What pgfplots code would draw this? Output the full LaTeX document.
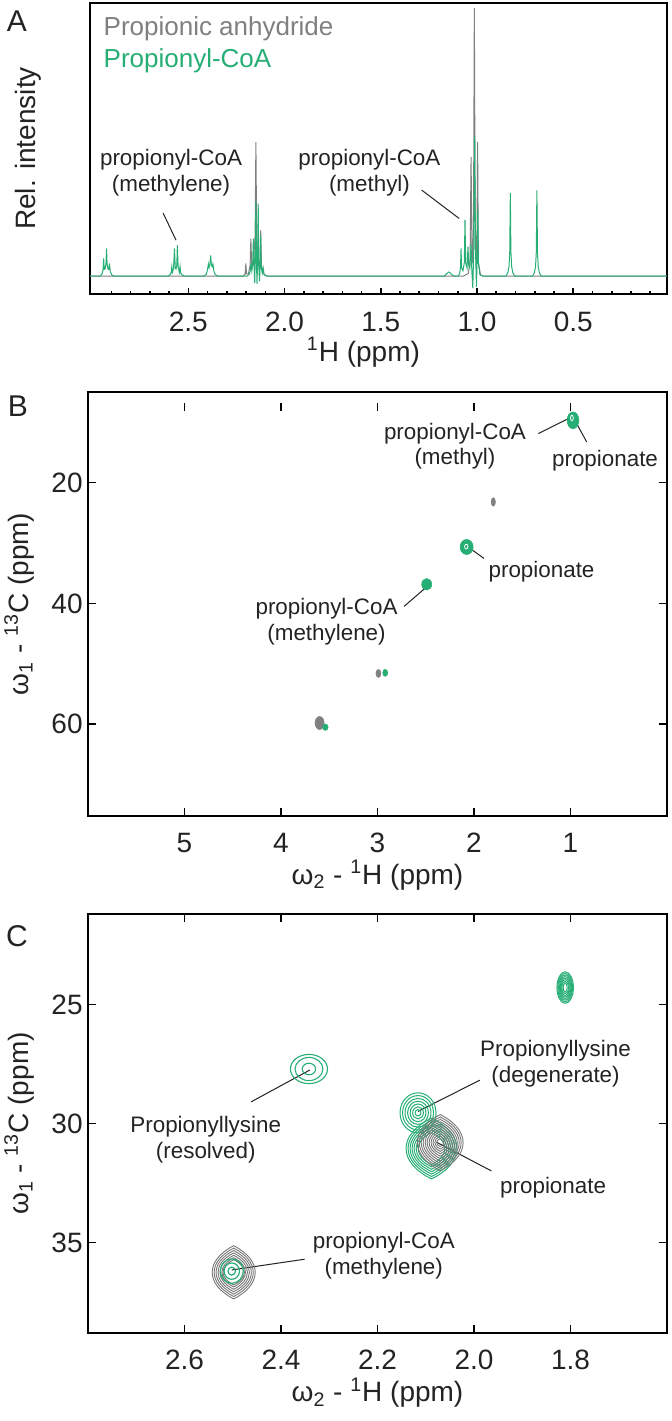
\documentclass[border=0pt]{standalone}
\usepackage{fontspec}
\setmainfont{Liberation Sans}
\usepackage{pgfplots}
\pgfplotsset{compat=1.18}
\definecolor{cgreen}{RGB}{39,174,116}
\definecolor{cgray}{RGB}{128,128,128}
\definecolor{cgrayc}{RGB}{118,118,118}
\definecolor{ctext}{RGB}{35,35,35}

\pgfdeclareplotmark{lens}{%
  \pgfpathmoveto{\pgfqpoint{0pt}{\pgfplotmarksize}}%
  \pgfpathcurveto{\pgfqpoint{1.33\pgfplotmarksize}{0.45\pgfplotmarksize}}{\pgfqpoint{1.33\pgfplotmarksize}{-0.45\pgfplotmarksize}}{\pgfqpoint{0pt}{-\pgfplotmarksize}}%
  \pgfpathcurveto{\pgfqpoint{-1.33\pgfplotmarksize}{-0.45\pgfplotmarksize}}{\pgfqpoint{-1.33\pgfplotmarksize}{0.45\pgfplotmarksize}}{\pgfqpoint{0pt}{\pgfplotmarksize}}%
  \pgfpathclose
  \pgfusepathqstroke
}

\tikzset{ann/.style={font=\fontsize{11.2}{12.8}\selectfont, text=ctext, align=center, inner sep=0pt}}

\pgfplotsset{
  blob/.style n args={3}{scatter, only marks, mark=#1,
    scatter/use mapped color={draw=#2, fill=#2, line width=#3},
    visualization depends on={\thisrow{r}\as\blobr},
    visualization depends on={\thisrow{s}\as\blobs},
    scatter/@pre marker code/.append style={/tikz/mark size=\blobr, /tikz/xscale=\blobs}},
  common/.style={scale only axis, anchor=north west, tick align=inside,
    /pgf/number format/assume math mode=true,
    axis line style={line width=1.2pt},
    every tick/.append style={black, line width=0.8pt},
    ticklabel style={font=\fontsize{14}{14}\selectfont, text=ctext},
    xticklabel style={inner sep=0pt, yshift=-8.5pt},
    yticklabel style={inner sep=0pt, xshift=-2.5pt},
    label style={font=\fontsize{14}{16}\selectfont, text=ctext},
    xlabel style={anchor=center},
    ylabel style={anchor=center}},
}

\begin{document}
\begin{tikzpicture}
\path[use as bounding box] (0,0) rectangle (336pt,-710.5pt);

\node[font=\fontsize{15}{15}\selectfont, text=ctext] at (8.5pt,-10.5pt) {A};
\node[font=\fontsize{15}{15}\selectfont, text=ctext] at (9pt,-203pt) {B};
\node[font=\fontsize{15}{15}\selectfont, text=ctext] at (8.5pt,-468pt) {C};

% ---------------- Panel A ----------------
\begin{axis}[common,
  at={(45pt,-1.5pt)}, width=288.5pt, height=145.5pt,
  x dir=reverse, xmin=0.013, xmax=3.011, ymin=-0.067, ymax=1.019,
  xtick={0.5,1,1.5,2,2.5}, xticklabels={0.5,1.0,1.5,2.0,2.5},
  minor xtick={0.1,0.2,0.3,0.4,0.6,0.7,0.8,0.9,1.1,1.2,1.3,1.4,1.6,1.7,1.8,1.9,2.1,2.2,2.3,2.4,2.6,2.7,2.8,2.9},
  ytick=\empty, xtick pos=left,
  major tick length=3pt, minor tick length=1.7pt,
  xticklabel style={yshift=-0.3pt},
  xlabel={\textsuperscript{1}H (ppm)},
  xlabel style={at={(axis description cs:0.474,-0.2)}},
  ylabel={Rel. intensity},
  ylabel style={at={(axis description cs:-0.1075,0.5)}},
]
\addplot[cgray, line width=0.5pt] coordinates {
(3.011,0) (2.215,0) (2.205,0.008) (2.201,0.047) (2.198,0.008) (2.188,0.008)
(2.179,0.04) (2.175,0.14) (2.171,0.04) (2.163,0.04) (2.153,0.15) (2.149,0.50)
(2.145,0.15) (2.136,0.04) (2.128,0.05) (2.124,0.17) (2.120,0.04) (2.110,0.01)
(2.095,0) (1.07,0) (1.045,0.01) (1.036,0.06) (1.031,0.445) (1.026,0.06)
(1.021,0.05) (1.018,0.25) (1.014,1.0) (1.010,0.25) (1.005,0.05) (1.001,0.06)
(0.997,0.50) (0.993,0.05) (0.982,0.005) (0.97,0) (0.013,0)
};
\addplot[cgreen, line width=0.5pt] coordinates {
(3.011,0) (2.958,0) (2.948,0.008) (2.943,0.025) (2.940,0.066) (2.937,0.025)
(2.932,0.028) (2.928,0.045) (2.925,0.103) (2.922,0.045) (2.917,0.025)
(2.913,0.025) (2.910,0.047) (2.906,0.018) (2.898,0.004) (2.885,0)
(2.605,0) (2.594,0.006) (2.589,0.014) (2.586,0.035) (2.583,0.014) (2.577,0.028)
(2.572,0.103) (2.568,0.03) (2.564,0.026) (2.560,0.04) (2.557,0.115) (2.553,0.035)
(2.547,0.014) (2.543,0.035) (2.540,0.012) (2.532,0.004) (2.52,0)
(2.42,0) (2.407,0.006) (2.400,0.025) (2.396,0.045) (2.392,0.032) (2.388,0.045)
(2.384,0.077) (2.380,0.04) (2.376,0.035) (2.372,0.045) (2.367,0.018) (2.36,0.005) (2.345,0)
(2.195,0) (2.184,0.006) (2.178,0.02) (2.174,0.05) (2.170,0.02) (2.166,0.04)
(2.162,0.14) (2.158,0.03) (2.155,-0.025) (2.152,0.08) (2.149,0.28) (2.146,0.05)
(2.143,-0.03) (2.140,0.06) (2.137,0.27) (2.134,0.04) (2.130,-0.02) (2.127,0.04)
(2.124,0.15) (2.121,0.03) (2.116,0.01) (2.111,0.03) (2.106,0.005) (2.09,0)
(1.17,0) (1.156,0.01) (1.148,0.015) (1.14,0.012) (1.13,0.004) (1.115,0)
(1.098,0) (1.090,0.01) (1.086,0.03) (1.083,0.103) (1.080,0.03) (1.073,0.02)
(1.066,0.05) (1.0625,0.21) (1.059,0.05) (1.052,0.03) (1.047,0.11) (1.043,0.04)
(1.037,0.03) (1.031,0.12) (1.027,0.02) (1.022,-0.045) (1.017,0.1) (1.012,0.52)
(1.008,0.1) (1.003,-0.04) (0.999,0.08) (0.996,0.25) (0.993,0.05) (0.985,0.005) (0.97,0)
(0.850,0) (0.840,0.012) (0.834,0.035) (0.830,0.09) (0.827,0.31) (0.824,0.09)
(0.820,0.035) (0.814,0.012) (0.804,0)
(0.712,0) (0.702,0.012) (0.696,0.035) (0.692,0.09) (0.689,0.32) (0.686,0.09)
(0.682,0.035) (0.676,0.012) (0.666,0)
(0.013,0)
};
\node[anchor=west, inner sep=0pt, font=\fontsize{13}{13}\selectfont, text=cgray] at (axis cs:2.942,0.924) {Propionic anhydride};
\node[anchor=west, inner sep=0pt, font=\fontsize{13}{13}\selectfont, text=cgreen] at (axis cs:2.942,0.803) {Propionyl-CoA};
\node[ann] at (axis cs:2.59,0.386) {propionyl-CoA\\(methylene)};
\draw[line width=0.5pt, ctext] (axis cs:2.631,0.235) -- (axis cs:2.564,0.134);
\node[ann] at (axis cs:1.559,0.386) {propionyl-CoA\\(methyl)};
\draw[line width=0.5pt, ctext] (axis cs:1.288,0.321) -- (axis cs:1.093,0.215);
\end{axis}

% ---------------- Panel B ----------------
\begin{axis}[common,
  at={(44pt,-196pt)}, width=289.5pt, height=212pt,
  x dir=reverse, y dir=reverse,
  xmin=0, xmax=6, ymin=5, ymax=75.2,
  xtick={1,2,3,4,5}, ytick={20,40,60},
  xtick pos=left, ytick pos=both,
  major tick length=4pt,
  xlabel={ω\textsubscript{2} - \textsuperscript{1}H (ppm)},
  xlabel style={at={(axis description cs:0.5,-0.1395)}},
  ylabel={ω\textsubscript{1} - \textsuperscript{13}C (ppm)},
  ylabel style={at={(axis description cs:-0.119,0.5)}},
]
% detached top tick marks of the reference
\foreach \t in {1,2,3,4,5}{
  \edef\temp{\noexpand\draw[black, line width=0.8pt] (axis cs:\t,6.87) -- (axis cs:\t,8.1);}
  \temp
}
\addplot[blob={*}{cgray}{0.3pt}] table {
x y r s
1.80 23.2 2.1 0.5
2.99 51.6 2.0 0.62
3.60 59.8 3.25 0.7
};
\addplot[blob={*}{cgreen}{0.3pt}] table {
x y r s
0.974 9.69 4.2 0.7
2.076 30.66 3.75 0.87
2.49 36.84 2.9 0.86
2.92 51.5 1.75 0.7
3.54 60.5 1.6 0.85
};
\addplot[blob={o}{white}{0.4pt}] table {
x y r s
0.985 9.3 1.4 0.5
2.08 30.6 1.2 0.7
};
\node[ann] at (axis cs:2.197,13.95) {propionyl-CoA\\(methyl)};
\draw[line width=0.5pt, ctext] (axis cs:1.333,11.88) -- (axis cs:1.023,9.40);
\node[ann] at (axis cs:0.642,16.3) {propionate};
\draw[line width=0.5pt, ctext] (axis cs:0.832,13.27) -- (axis cs:0.936,10.23);
\node[ann] at (axis cs:1.30,34.78) {propionate};
\draw[line width=0.5pt, ctext] (axis cs:1.896,32.56) -- (axis cs:2.062,30.65);
\node[ann] at (axis cs:3.528,43.05) {propionyl-CoA\\(methylene)};
\draw[line width=0.5pt, ctext] (axis cs:2.725,40.5) -- (axis cs:2.49,37.26);
\end{axis}

% ---------------- Panel C ----------------
\begin{axis}[common,
  at={(44pt,-457pt)}, width=289.5pt, height=209.5pt,
  x dir=reverse, y dir=reverse,
  xmin=1.6, xmax=2.8, ymin=21.2, ymax=38.8,
  xtick={1.8,2.0,2.2,2.4,2.6}, xticklabels={1.8,2.0,2.2,2.4,2.6},
  ytick={25,30,35},
  major tick length=4pt,
  xlabel={ω\textsubscript{2} - \textsuperscript{1}H (ppm)},
  xlabel style={at={(axis description cs:0.5,-0.1425)}},
  ylabel={ω\textsubscript{1} - \textsuperscript{13}C (ppm)},
  ylabel style={at={(axis description cs:-0.119,0.5)}},
]
% isolated green peak near 1.81 ppm
\addplot[blob={o}{cgreen}{0.5pt}] table {
x y r s
1.811 24.29 7.9 0.52
1.811 24.29 7.1 0.52
1.811 24.29 6.3 0.52
1.811 24.29 5.5 0.52
1.811 24.29 4.7 0.52
1.811 24.29 3.9 0.52
1.811 24.29 3.1 0.52
1.811 24.29 2.2 0.45
};
% propionyllysine resolved
\addplot[blob={o}{cgreen}{0.55pt}] table {
x y r s
2.342 27.71 7.3 1.27
2.342 27.71 5.8 1.2
2.342 27.71 2.9 1.15
};
% propionyllysine degenerate
\addplot[blob={o}{cgreen}{0.5pt}] table {
x y r s
2.116 29.55 10.0 0.9
2.116 29.55 8.6 0.9
2.116 29.55 7.2 0.9
2.116 29.55 5.8 0.9
2.116 29.55 4.4 0.9
2.116 29.55 3.0 0.9
2.116 29.55 1.6 0.9
};
% propionate (green sample)
\addplot[blob={lens}{cgreen}{0.5pt}] table {
x y r s
2.088 31.05 15.2 0.84
2.088 31.05 14.0 0.84
2.088 31.05 12.8 0.84
2.088 31.05 11.6 0.84
2.088 31.05 10.4 0.84
2.088 31.05 9.2 0.84
2.088 31.05 8.0 0.84
};
% propionate (gray sample)
\addplot[blob={lens}{cgrayc}{0.45pt}] table {
x y r s
2.070 30.80 14.0 0.82
2.070 30.80 12.8 0.82
2.070 30.80 11.6 0.82
2.070 30.80 10.4 0.82
2.070 30.80 9.2 0.82
2.070 30.80 8.0 0.82
2.070 30.80 6.8 0.82
2.070 30.80 5.6 0.82
2.070 30.80 4.4 0.82
2.070 30.80 3.2 0.85
2.070 30.80 2.0 0.9
};
% propionyl-CoA methylene (gray)
\addplot[blob={lens}{cgrayc}{0.45pt}] table {
x y r s
2.498 36.25 13.3 0.81
2.498 36.25 12.1 0.81
2.498 36.25 10.9 0.81
2.498 36.25 9.7 0.81
2.498 36.25 8.5 0.81
2.498 36.25 7.3 0.81
2.498 36.25 6.3 0.85
};
\addplot[blob={o}{cgreen}{0.6pt}] table {
x y r s
2.502 36.2 6.1 0.94
2.502 36.2 4.1 0.94
2.502 36.2 2.0 0.94
};
\node[ann] at (axis cs:2.556,30.67) {Propionyllysine\\(resolved)};
\draw[line width=0.5pt, ctext] (axis cs:2.462,29.09) -- (axis cs:2.340,27.75);
\node[ann] at (axis cs:1.831,27.5) {Propionyllysine\\(degenerate)};
\draw[line width=0.5pt, ctext] (axis cs:1.988,28.18) -- (axis cs:2.116,29.49);
\node[ann] at (axis cs:1.836,32.70) {propionate};
\draw[line width=0.5pt, ctext] (axis cs:1.964,31.99) -- (axis cs:2.076,30.80);
\node[ann] at (axis cs:2.187,35.54) {propionyl-CoA\\(methylene)};
\draw[line width=0.5pt, ctext] (axis cs:2.351,35.70) -- (axis cs:2.502,36.15);
\end{axis}
\end{tikzpicture}
\end{document}
